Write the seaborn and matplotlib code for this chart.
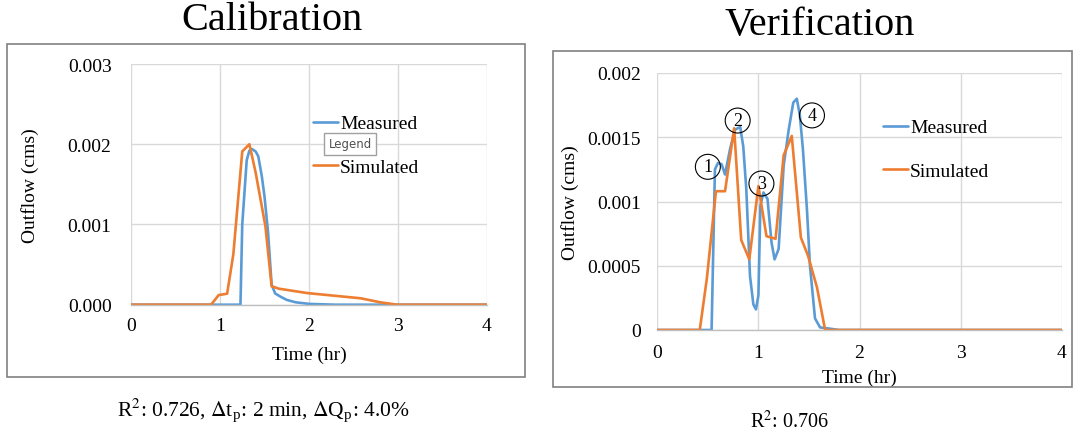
import numpy as np
import pandas as pd
import matplotlib
matplotlib.use("Agg")
import matplotlib.pyplot as plt
import seaborn as sns
from matplotlib.patches import Rectangle

# ---------------- data ----------------
cal_meas_t = [0, 1.23, 1.25, 1.30, 1.33, 1.36, 1.40, 1.43, 1.47, 1.50, 1.54, 1.58, 1.62, 1.68, 1.75, 1.85, 2.0, 2.3, 4.0]
cal_meas_q = [0, 0, 0.0010, 0.0018, 0.00192, 0.00194, 0.00191, 0.00185, 0.0016, 0.00135, 0.0009, 0.00025,
              0.00014, 0.0001, 0.00006, 0.00003, 0.00001, 0, 0]
cal_sim_t = [0, 0.90, 0.985, 1.08, 1.15, 1.25, 1.33, 1.40, 1.51, 1.58, 1.66, 1.98, 2.58, 2.80, 2.99, 4.0]
cal_sim_q = [0, 0, 0.00012, 0.000137, 0.00063, 0.00191, 0.0020, 0.00165, 0.00098, 0.00023, 0.0002,
             0.000145, 0.00008, 0.00003, 0, 0]

ver_meas_t = [0, 0.537, 0.57, 0.60, 0.636, 0.67, 0.72, 0.77, 0.82, 0.85, 0.88, 0.917, 0.95, 0.976, 1.0, 1.02,
              1.05, 1.09, 1.13, 1.16, 1.20, 1.25, 1.30, 1.345, 1.38, 1.41, 1.44, 1.48, 1.51, 1.56, 1.61, 1.71,
              1.80, 4.0]
ver_meas_q = [0, 0, 0.00125, 0.0013, 0.00129, 0.00121, 0.00141, 0.00156, 0.00158, 0.00143, 0.0011, 0.00042,
              0.0002, 0.00016, 0.00027, 0.00097, 0.00107, 0.00102, 0.00068, 0.00055, 0.00063, 0.00128, 0.00156,
              0.00177, 0.0018, 0.00167, 0.00141, 0.00094, 0.0005, 0.00009, 0.00002, 0.00001, 0, 0]
ver_sim_t = [0, 0.42, 0.49, 0.58, 0.67, 0.76, 0.83, 0.91, 1.0, 1.08, 1.17, 1.25, 1.33, 1.42, 1.49, 1.58, 1.66, 4.0]
ver_sim_q = [0, 0, 0.0004, 0.00108, 0.00108, 0.00157, 0.0007, 0.00055, 0.00112, 0.00073, 0.00071, 0.00136,
             0.00151, 0.00072, 0.00058, 0.00033, 0, 0]

cal_yticks = [0, 0.001, 0.002, 0.003]
cal_yticklabels = ["0.000", "0.001", "0.002", "0.003"]
ver_yticks = [0, 0.0005, 0.001, 0.0015, 0.002]
ver_yticklabels = ["0", "0.0005", "0.001", "0.0015", "0.002"]
xticks = [0, 1, 2, 3, 4]

peak_labels = ["1", "2", "3", "4"]
peak_x = [0.50, 0.795, 1.03, 1.53]
peak_y = [0.00127, 0.00163, 0.00114, 0.00167]

BLUE = "#5B9BD5"
ORANGE = "#ED7D31"

# ---------------- style ----------------
sns.set_theme(style="white")
plt.rcParams["font.family"] = ["Liberation Serif", "DejaVu Serif"]
plt.rcParams["mathtext.fontset"] = "stix"
plt.rcParams["text.color"] = "black"
plt.rcParams["axes.labelcolor"] = "black"

fig = plt.figure(figsize=(10.75, 4.31), dpi=100)

W, H = 1075, 431


def px_rect(x0, y0, x1, y1):
    return [x0 / W, 1 - y1 / H, (x1 - x0) / W, (y1 - y0) / H]


# outer frames
for (x0, y0, x1, y1) in [(7, 45, 525, 378), (553, 52, 1072, 388)]:
    r = px_rect(x0, y0, x1, y1)
    fig.patches.append(Rectangle((r[0], r[1]), r[2], r[3], transform=fig.transFigure,
                                 fill=False, ec="#808080", lw=1.2))

ax1 = fig.add_axes(px_rect(131, 65, 487, 305.7))
ax2 = fig.add_axes(px_rect(657.3, 74, 1061.7, 331))


def draw(ax, mt, mq, st, sq, yticks, ylabels, ymax):
    dm = pd.DataFrame({"t": mt, "q": mq})
    ds = pd.DataFrame({"t": st, "q": sq})
    sns.lineplot(data=dm, x="t", y="q", ax=ax, color=BLUE, lw=1.9, label="Measured")
    sns.lineplot(data=ds, x="t", y="q", ax=ax, color=ORANGE, lw=1.9, label="Simulated")
    ax.set_xlim(0, 4)
    ax.set_ylim(0, ymax)
    ax.set_xticks(xticks)
    ax.set_xticklabels([str(v) for v in xticks])
    ax.set_yticks(yticks)
    ax.set_yticklabels(ylabels)
    ax.grid(True, color="#D9D9D9", lw=1.0)
    ax.set_axisbelow(True)
    for s in ["top", "right", "left"]:
        ax.spines[s].set_visible(False)
    ax.spines["bottom"].set_color("#BFBFBF")
    ax.spines["bottom"].set_linewidth(1.0)
    ax.tick_params(axis="both", length=0, labelsize=14, colors="black")
    ax.set_xlabel("Time (hr)", fontsize=14, color="black")
    ax.set_ylabel("Outflow (cms)", fontsize=14, color="black")
    ax.xaxis.label.set_va("center")
    ax.yaxis.label.set_va("center")


draw(ax1, cal_meas_t, cal_meas_q, cal_sim_t, cal_sim_q, cal_yticks, cal_yticklabels, 0.003)
draw(ax2, ver_meas_t, ver_meas_q, ver_sim_t, ver_sim_q, ver_yticks, ver_yticklabels, 0.002)

ax1.tick_params(axis="y", pad=14)
ax1.tick_params(axis="x", pad=9)
ax2.tick_params(axis="y", pad=12)
ax2.tick_params(axis="x", pad=10)

ax1.yaxis.set_label_coords((30 - 131) / 356, 0.5)
ax1.xaxis.set_label_coords(0.5, -(355 - 305.7) / 240.7)
ax2.yaxis.set_label_coords((570 - 657.3) / 404.4, 0.5)
ax2.xaxis.set_label_coords(0.5, -(378 - 331) / 257)

legkw = dict(frameon=False, fontsize=14, borderpad=0, handlelength=1.3, handletextpad=0.1,
             labelspacing=1.35, loc="upper left")
ax1.legend(bbox_to_anchor=((303 - 131) / 356, 1 - (106 - 65) / 240.7), **legkw)
ax2.legend(bbox_to_anchor=((873 - 657.3) / 404.4, 1 - (110 - 74) / 257), **legkw)

# "Legend" tooltip
fig.text(350 / W, 1 - 145 / H, "Legend", family="DejaVu Sans", fontsize=8.5, color="#505050",
         ha="center", va="center",
         bbox=dict(boxstyle="square,pad=0.35", fc="white", ec="#A0A0A0", lw=1.0))

# circled peak numbers
for lab, x, y in zip(peak_labels, peak_x, peak_y):
    ax2.text(x, y, lab, fontsize=13, ha="center", va="center", zorder=5,
             bbox=dict(boxstyle="circle,pad=0.22", fc="none", ec="black", lw=0.8))

# titles
fig.text(272 / W, 1 - 21 / H, "Calibration", fontsize=29, ha="center", va="center")
fig.text(820 / W, 1 - 26 / H, "Verification", fontsize=29, ha="center", va="center")

# bottom notes
fig.text(263 / W, 1 - 410 / H, r"R$^2$: 0.726, $\Delta$t$_\mathregular{p}$: 2 min, $\Delta$Q$_\mathregular{p}$: 4.0%",
         fontsize=15.5, ha="center", va="center")
fig.text(790 / W, 1 - 422 / H, r"R$^2$: 0.706", fontsize=14.5, ha="center", va="center")

fig.savefig("out.png", dpi=100, facecolor="white")
